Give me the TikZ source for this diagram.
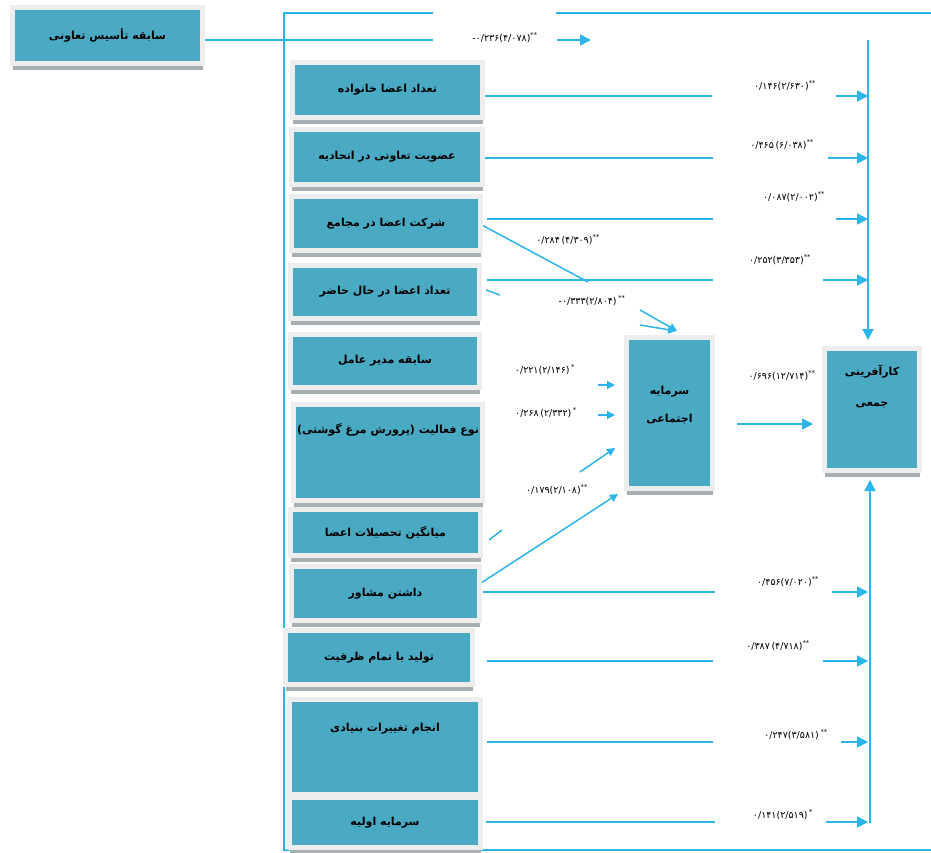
\documentclass[tikz,border=0pt]{standalone}
\usepackage{fontspec}
\usetikzlibrary{arrows.meta,shadows}
\TeXXeTstate=1
\newfontfamily\fa[Script=Arabic]{DejaVu Sans}
\newfontfamily\numf{DejaVu Sans}
\newcommand\rl[1]{\beginR #1\endR}
\newcommand\up[2]{\raisebox{#1}[0pt][0pt]{#2}}
\definecolor{boxteal}{HTML}{4AAAC4}
\definecolor{lnblue}{HTML}{2CB5EA}
\definecolor{frm}{HTML}{EDEDED}
\definecolor{shd}{HTML}{A7AFB3}
\tikzset{
  tbox/.style={fill=boxteal, draw=frm, line width=5pt, inner sep=0pt, text=black,
    font=\fa\bfseries\fontsize{11}{13}\selectfont,
    drop shadow={shadow xshift=0pt, shadow yshift=-6pt, fill=shd, opacity=1}},
  ln/.style={draw=lnblue, line width=1.5pt},
  arr/.style={ln, -{Triangle[length=11pt,width=11pt]}},
  arrs/.style={ln, -{Triangle[length=8pt,width=8pt]}},
  lab/.style={font=\numf\fontsize{9.5}{11}\selectfont, inner sep=1pt, text=black},
}
\begin{document}
\begin{tikzpicture}[x=1pt,y=-1pt]
\useasboundingbox (0,0) rectangle (931,852);
% outer frame lines
\coordinate (fa1) at (433,13);
\coordinate (fa2) at (284,13);
\coordinate (fa3) at (284,850);
\coordinate (fa4) at (931,850);
\coordinate (fb1) at (556,13);
\coordinate (fb2) at (931,13);
\draw[ln] (fa1) -- (fa2) -- (fa3) -- (fa4);
\draw[ln] (fb1) -- (fb2);

% node positions
\path (107.5,35.5) coordinate (p1) (387.5,90) coordinate (p2) (387,157) coordinate (p3)
      (386,223.5) coordinate (p4) (385,292) coordinate (p5) (385,361) coordinate (p6)
      (388,452.5) coordinate (p7) (385.5,532.5) coordinate (p8) (385.5,593.5) coordinate (p9)
      (379,657.5) coordinate (p10) (385,747) coordinate (p11) (385,822.5) coordinate (p12)
      (669.5,413) coordinate (psa) (872,409.5) coordinate (pka);

% vertical collector line
\coordinate (vt) at (868,40);
\coordinate (vtt) at (868,340);
\coordinate (vb) at (870,823);
\coordinate (vbt) at (870,480);
\draw[arr] (vt) -- (vtt);
\draw[arr] (vb) -- (vbt);

% row 1
\coordinate (r1s) at (203,40);
\coordinate (r1a) at (433,40);
\coordinate (r1b) at (557,40);
\coordinate (r1t) at (591,40);
\draw[ln] (r1s) -- (r1a);
\draw[arr] (r1b) -- (r1t);

% rows into the collector
\foreach \n/\s/\y/\gl/\gr in {2/482/96/712/836, 3/485/158/713/828, 4/487/219/713/836,
   5/487/280/713/823, 9/483/592/715/832, 10/487/661/713/823, 11/487/742/713/841, 12/486/822/715/826}{
  \coordinate (rs\n) at (\s,\y);
  \coordinate (ra\n) at (\gl,\y);
  \coordinate (rb\n) at (\gr,\y);
  \draw[ln] (rs\n) -- (ra\n);
  \draw[arr] (rb\n) -- (vt |- ra\n);
}

% arrows into social capital
\coordinate (d1s) at (480,224);
\coordinate (d1e) at (588,282);
\coordinate (d1b) at (640,310);
\coordinate (d1t) at (677,331);
\draw[ln] (d1s) -- (d1e);
\draw[arrs] (d1b) -- (d1t);
\coordinate (d2s) at (486,290);
\coordinate (d2e) at (500,295);
\coordinate (d2b) at (640,325);
\coordinate (d2t) at (676,331);
\draw[ln] (d2s) -- (d2e);
\draw[arrs] (d2b) -- (d2t);
\coordinate (d3b) at (598,385);
\coordinate (d3t) at (615,385);
\draw[arrs] (d3b) -- (d3t);
\coordinate (d4b) at (598,415);
\coordinate (d4t) at (615,415);
\draw[arrs] (d4b) -- (d4t);
\coordinate (d5s) at (489,540);
\coordinate (d5e) at (502,530);
\coordinate (d5b) at (580,472);
\coordinate (d5t) at (615,448);
\draw[ln] (d5s) -- (d5e);
\draw[arrs] (d5b) -- (d5t);
\coordinate (d6s) at (481,583);
\coordinate (d6t) at (618,494);
\draw[arrs] (d6s) -- (d6t);
% social capital -> collective entrepreneurship
\coordinate (d7b) at (737,424);
\coordinate (d7t) at (813,424);
\draw[arr] (d7b) -- (d7t);

% boxes
\node[tbox, minimum width=190pt, minimum height=56pt] (b1) at (p1) {\rl{سابقه تأسیس تعاونی}};
\node[tbox, minimum width=190pt, minimum height=55pt] (b2) at (p2) {\rl{تعداد اعضا خانواده}};
\node[tbox, minimum width=191pt, minimum height=55pt] (b3) at (p3) {\rl{عضویت تعاونی در اتحادیه}};
\node[tbox, minimum width=189pt, minimum height=54pt] (b4) at (p4) {\rl{شرکت اعضا در مجامع}};
\node[tbox, minimum width=189pt, minimum height=53pt] (b5) at (p5) {\rl{تعداد اعضا در حال حاضر}};
\node[tbox, minimum width=189pt, minimum height=53pt] (b6) at (p6) {\rl{سابقه مدیر عامل}};
\node[tbox, minimum width=189pt, minimum height=96pt] (b7) at (p7) {\up{19pt}{\rl{نوع فعالیت (پرورش مرغ گوشتی)}}};
\node[tbox, minimum width=190pt, minimum height=46pt] (b8) at (p8) {\rl{میانگین تحصیلات اعضا}};
\node[tbox, minimum width=188pt, minimum height=54pt] (b9) at (p9) {\rl{داشتن مشاور}};
\node[tbox, minimum width=187pt, minimum height=54pt] (b10) at (p10) {\rl{تولید با تمام ظرفیت}};
\node[tbox, minimum width=191pt, minimum height=95pt] (b11) at (p11) {\up{16pt}{\rl{انجام تغییرات بنیادی}}};
\node[tbox, minimum width=191pt, minimum height=50pt] (b12) at (p12) {\rl{سرمایه اولیه}};
\node[tbox, minimum width=86pt, minimum height=151pt] (sa) at (psa)
  {\up{4pt}{\begin{tabular}{@{}c@{}}\rl{سرمایه}\\[15pt]\rl{اجتماعی}\end{tabular}}};
\node[tbox, minimum width=95pt, minimum height=122pt] (ka) at (pka)
  {\up{19pt}{\begin{tabular}{@{}c@{}}\rl{کارآفرینی}\\[18pt]\rl{جمعی}\end{tabular}}};

% coefficient labels
\node[lab] (l1) at (505,38) {-۰/۲۳۶(۴/۰۷۸)\textsuperscript{**}};
\node[lab] (l2) at (785,86) {۰/۱۴۶(۲/۶۳۰)\textsuperscript{**}};
\node[lab] (l3) at (782,145) {۰/۴۶۵\,(۶/۰۳۸)\textsuperscript{**}};
\node[lab] (l4) at (794,197) {۰/۰۸۷(۲/۰۰۲)\textsuperscript{**}};
\node[lab] (l5) at (780,260) {۰/۲۵۲(۳/۳۵۳)\textsuperscript{**}};
\node[lab] (l6) at (782,376) {۰/۶۹۶(۱۲/۷۱۴)\textsuperscript{**}};
\node[lab] (l7) at (788,582) {۰/۴۵۶(۷/۰۲۰)\textsuperscript{**}};
\node[lab] (l8) at (778,646) {۰/۳۸۷\,(۴/۷۱۸)\textsuperscript{**}};
\node[lab] (l9) at (796,735) {۰/۲۴۷(۳/۵۸۱)\,\textsuperscript{**}};
\node[lab] (l10) at (783,815) {۰/۱۴۱(۲/۵۱۹)\,\textsuperscript{*}};
\node[lab] (l11) at (568,240) {۰/۲۸۴\,(۴/۳۰۹)\textsuperscript{**}};
\node[lab] (l12) at (592,301) {-۰/۳۳۳(۲/۸۰۴)\,\textsuperscript{**}};
\node[lab] (l13) at (545,370) {۰/۲۲۱(۲/۱۴۶)\,\textsuperscript{*}};
\node[lab] (l14) at (546,413) {۰/۲۶۸\,(۲/۳۳۲)\,\textsuperscript{*}};
\node[lab] (l15) at (557,490) {۰/۱۷۹(۲/۱۰۸)\textsuperscript{**}};
\end{tikzpicture}
\end{document}
